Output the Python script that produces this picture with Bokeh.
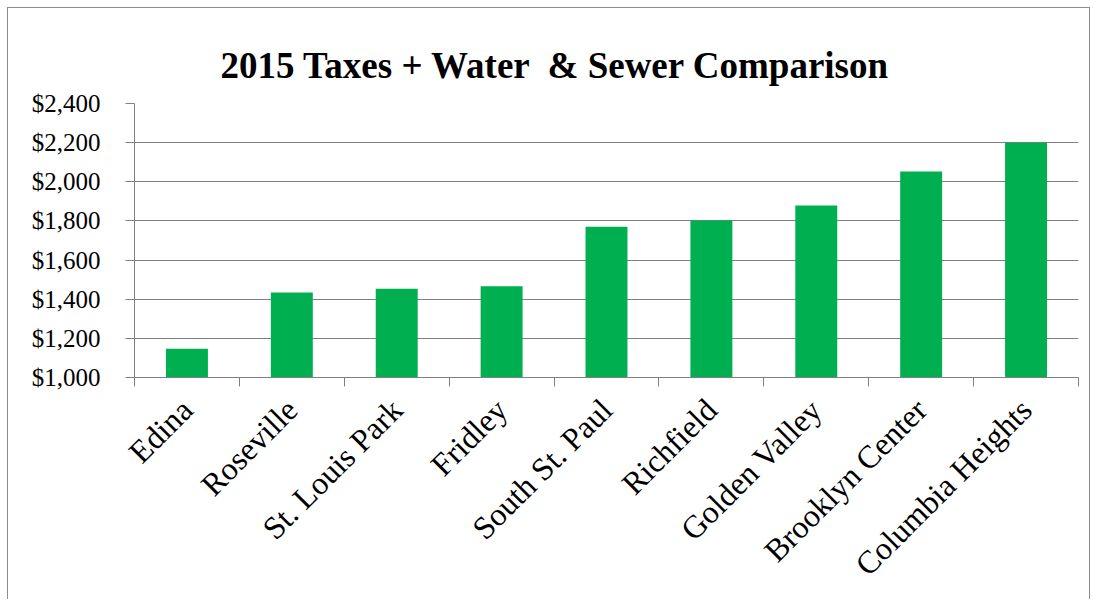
from bokeh.plotting import figure
from bokeh.models import (FactorRange, Range1d, LinearAxis, CategoricalAxis, FixedTicker,
                          NumeralTickFormatter, CategoricalTicker)
from bokeh.embed import file_html
from bokeh.resources import INLINE
import math

cities = ["Edina", "Roseville", "St. Louis Park", "Fridley", "South St. Paul",
          "Richfield", "Golden Valley", "Brooklyn Center", "Columbia Heights"]
totals = [1147, 1434, 1453, 1466, 1770, 1802, 1879, 2052, 2200]
y_ticks = [1000, 1200, 1400, 1600, 1800, 2000, 2200, 2400]
title_text = "2015 Taxes + Water \u00a0& Sewer Comparison"

GRAY = "#808080"
FONT = "Liberation Serif"

p = figure(width=1083, height=592, output_backend="svg", toolbar_location=None,
           x_range=FactorRange(*cities, range_padding=0), y_range=Range1d(1000, 2400),
           x_axis_location=None, y_axis_location=None,
           min_border_left=126, min_border_right=13, min_border_top=95, min_border_bottom=223)
p.styles = {"border-left": "1px solid #8c8c8c", "border-top": "1px solid #8c8c8c",
            "border-right": "1px solid #8c8c8c", "margin-left": "7px", "margin-top": "7px"}
p.outline_line_color = None

p.vbar(x=cities, top=totals, bottom=1000, width=0.4, color="#00B050", line_color=None)

# title
p.title.text = title_text
p.title.text_font = FONT
p.title.text_font_size = "37px"
p.title.text_font_style = "bold"
p.title.text_color = "black"
p.title.align = "left"
p.title.offset = 86
p.title.vertical_align = "top"
p.title.text_line_height = 1.0
p.title.standoff = 31

# y axis
yax = LinearAxis(ticker=FixedTicker(ticks=y_ticks),
                 formatter=NumeralTickFormatter(format="$0,0"))
yax.axis_line_color = GRAY
yax.major_tick_line_color = GRAY
yax.major_tick_out = 9
yax.major_tick_in = 0
yax.minor_tick_line_color = None
yax.major_label_text_font = FONT
yax.major_label_text_font_size = "25px"
yax.major_label_text_color = "black"
yax.major_label_standoff = 25
p.add_layout(yax, "left")

# x axis: tick marks at category boundaries
tick_axis = LinearAxis(ticker=FixedTicker(ticks=list(range(len(cities) + 1))))
tick_axis.axis_line_color = GRAY
tick_axis.major_tick_line_color = GRAY
tick_axis.major_tick_out = 9
tick_axis.major_tick_in = 0
tick_axis.minor_tick_line_color = None
tick_axis.major_label_text_font_size = "0px"
tick_axis.major_label_standoff = 0
p.add_layout(tick_axis, "below")

xax = CategoricalAxis(ticker=CategoricalTicker())
xax.axis_line_color = None
xax.major_tick_line_color = None
xax.major_tick_out = 0
xax.major_tick_in = 0
xax.major_label_orientation = math.pi / 4
xax.major_label_text_font = FONT
xax.major_label_text_font_size = "32px"
xax.major_label_text_color = "black"
xax.major_label_standoff = 18
p.add_layout(xax, "below")

p.xgrid.visible = False
p.ygrid.grid_line_color = GRAY
p.ygrid.ticker = FixedTicker(ticks=y_ticks)

open("out.html", "w").write(file_html(p, INLINE))
